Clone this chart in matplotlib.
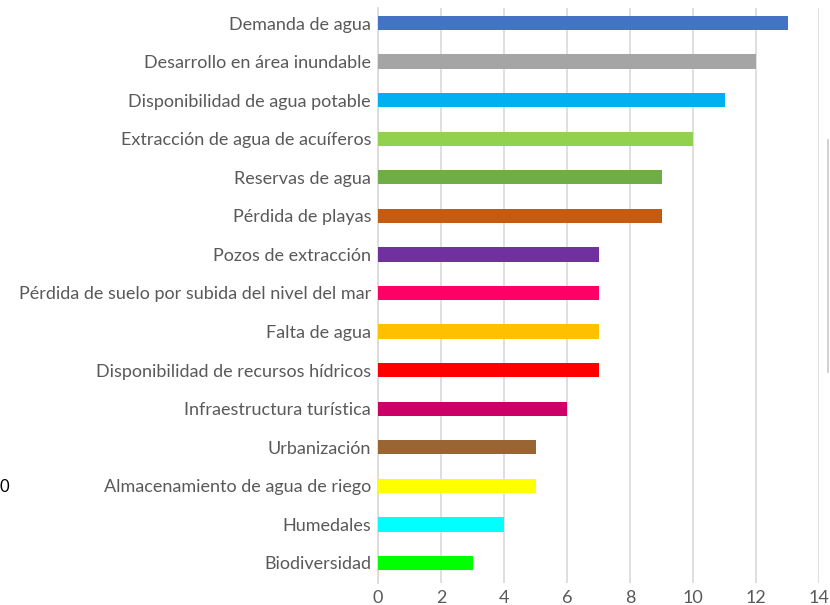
import matplotlib
matplotlib.use("Agg")
import matplotlib.pyplot as plt

categories = [
    "Demanda de agua",
    "Desarrollo en área inundable",
    "Disponibilidad de agua potable",
    "Extracción de agua de acuíferos",
    "Reservas de agua",
    "Pérdida de playas",
    "Pozos de extracción",
    "Pérdida de suelo por subida del nivel del mar",
    "Falta de agua",
    "Disponibilidad de recursos hídricos",
    "Infraestructura turística",
    "Urbanización",
    "Almacenamiento de agua de riego",
    "Humedales",
    "Biodiversidad",
]
values = [13, 12, 11, 10, 9, 9, 7, 7, 7, 7, 6, 5, 5, 4, 3]
colors = ["#4472C4", "#A5A5A5", "#00B0F0", "#92D050", "#70AD47", "#C55A11",
          "#7030A0", "#FF0066", "#FFC000", "#FF0000", "#CC0066", "#996633",
          "#FFFF00", "#00FFFF", "#00FF00"]
xticks = [0, 2, 4, 6, 8, 10, 12, 14]

text_col = "#595959"
plt.rcParams["font.family"] = ["Lato", "DejaVu Sans"]

fig = plt.figure(figsize=(8.3, 6.05), dpi=100)
ax = fig.add_axes([378 / 830, 22 / 605, 441 / 830, 575 / 605])

n = len(categories)
ypos = list(range(n - 1, -1, -1))
ax.barh(ypos, values, height=0.37, color=colors, zorder=3)

ax.set_xlim(0, 14)
ax.set_ylim(-0.52, n - 1 + 0.39)
ax.set_xticks(xticks)
ax.set_yticks(ypos)
ax.set_yticklabels(categories)
ax.tick_params(axis="both", length=0, labelsize=13, colors=text_col)
ax.tick_params(axis="y", pad=5)
ax.tick_params(axis="x", pad=5)

ax.grid(axis="x", color="#D9D9D9", linewidth=1.2, zorder=0)
for s in ["top", "right", "bottom"]:
    ax.spines[s].set_visible(False)
ax.spines["left"].set_color("#D9D9D9")
ax.spines["left"].set_linewidth(1.2)

# stray fragments at the image edges
fig.text(0.0, 1 - 487 / 605, "0", fontsize=12, color="black", va="center", ha="left")
fig.add_artist(plt.Line2D([828 / 830, 828 / 830], [1 - 140 / 605, 1 - 372 / 605],
                          color="#C8C8C8", linewidth=1.2))

fig.savefig("out.png", dpi=100)
